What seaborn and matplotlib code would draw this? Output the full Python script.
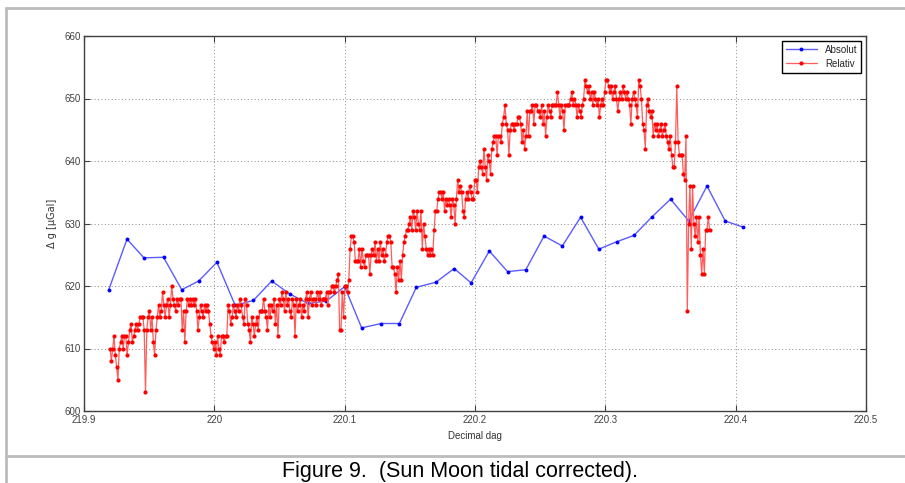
import numpy as np
import matplotlib
matplotlib.use("Agg")
import matplotlib.pyplot as plt
from matplotlib.lines import Line2D
import seaborn as sns

# Absolut: measured points (decimal day, delta g in uGal)
absolut_x = [219.919, 219.933, 219.946, 219.961, 219.975, 219.988, 220.002, 220.016,
             220.030, 220.044, 220.058, 220.072, 220.086, 220.100, 220.113, 220.128,
             220.142, 220.155, 220.170, 220.184, 220.197, 220.211, 220.225, 220.239,
             220.253, 220.267, 220.281, 220.295, 220.309, 220.322, 220.336, 220.350,
             220.364, 220.378, 220.392, 220.406]
absolut_y = [619.4, 627.5, 624.5, 624.6, 619.4, 620.8, 623.8, 616.9,
             617.7, 620.8, 618.7, 617.2, 617.6, 619.9, 613.3, 614.0,
             614.0, 619.8, 620.6, 622.8, 620.5, 625.6, 622.3, 622.6,
             628.0, 626.4, 631.0, 625.9, 627.1, 628.1, 631.1, 633.9,
             630.4, 636.0, 630.4, 629.4]

# Relativ: evenly sampled readings between these two times
relativ_start = 219.920
relativ_end = 220.380
relativ_y = [
    610, 608, 610, 612, 609, 607, 605, 610, 611, 612,
    610, 612, 612, 609, 611, 613, 614, 611, 612, 613,
    614, 613, 614, 615, 615, 615, 613, 603, 613, 615,
    616, 613, 615, 611, 609, 613, 615, 617, 615, 616,
    619, 617, 615, 617, 618, 615, 617, 620, 618, 617,
    616, 618, 617, 618, 618, 613, 616, 611, 616, 618,
    617, 618, 617, 618, 617, 618, 616, 613, 615, 617,
    616, 615, 617, 616, 617, 616, 614, 612, 611, 610,
    611, 609, 612, 610, 609, 612, 612, 611, 612, 612,
    617, 616, 614, 615, 617, 616, 615, 617, 616, 618,
    617, 615, 614, 618, 617, 614, 613, 611, 615, 614,
    612, 614, 615, 613, 616, 616, 616, 618, 616, 615,
    613, 617, 615, 617, 616, 618, 614, 617, 612, 618,
    617, 619, 618, 616, 619, 617, 618, 616, 615, 618,
    617, 612, 618, 616, 617, 618, 615, 617, 616, 618,
    619, 615, 618, 619, 617, 618, 618, 617, 619,
    618, 619, 617, 618, 618, 618, 619, 617, 619, 619,
    620, 620, 619, 620, 621, 622, 613, 613, 619, 615,
    620, 620, 619, 621, 626, 628, 628, 627, 624, 624,
    624, 626, 623, 626, 624, 623, 625, 625, 625, 622,
    625, 626, 625, 627, 624, 626, 624, 627, 625, 626,
    624, 625, 627, 628, 628, 627, 623, 623, 622, 619,
    623, 621, 624, 621, 625, 627, 628, 629, 629, 630,
    631, 629, 632, 631, 629, 632, 630, 629, 632, 626,
    630, 628, 626, 625, 626, 625, 626, 625, 629, 632,
    632, 634, 635, 635, 634, 635, 632, 634, 633, 634,
    633, 631, 634, 633, 630, 634, 637, 635, 636, 635,
    632, 631, 634, 635, 634, 636, 635, 634, 634, 637,
    637, 635, 639, 640, 639, 638, 642, 639, 637, 641,
    640, 638, 642, 643, 644, 644, 641, 644, 644, 643,
    646, 647, 649, 646, 645, 641, 645, 646, 646, 645,
    646, 646, 647, 647, 646, 643, 645, 642, 644, 648,
    644, 648, 648, 649, 646, 649, 649, 648, 648, 647,
    649, 646, 648, 644, 647, 649, 648, 647, 649, 649,
    649, 649, 651, 649, 647, 649, 648, 645, 649, 649,
    649, 649, 650, 651, 649, 650, 649, 647, 649, 648,
    647, 649, 650, 653, 652, 651, 652, 650, 651, 649,
    651, 650, 649, 650, 647, 649, 650, 649, 651, 653,
    653, 652, 651, 652, 650, 651, 652, 650, 648, 650,
    651, 650, 652, 651, 650, 651, 650, 649, 646, 650,
    651, 650, 649, 647, 653, 652, 650, 646, 645, 642,
    649, 650, 648, 647, 648, 644, 646, 645, 646, 644,
    645, 646, 644, 645, 646, 644, 643, 642, 644, 641,
    639, 639, 643, 652, 643, 641, 641,
    641, 638, 637, 644, 616, 630, 636, 626, 636, 630,
    628, 631, 627, 631, 625, 622, 626, 622, 629, 629,
    631, 629,
]
relativ_x = np.linspace(relativ_start, relativ_end, len(relativ_y))

x_ticks = [219.9, 220.0, 220.1, 220.2, 220.3, 220.4, 220.5]
x_tick_labels = ["219.9", "220", "220.1", "220.2", "220.3", "220.4", "220.5"]
y_ticks = [600, 610, 620, 630, 640, 650, 660]

sns.set_style("ticks")
plt.rcParams["font.family"] = ["Liberation Sans Narrow", "Liberation Sans", "DejaVu Sans"]

W, H = 905, 483
fig = plt.figure(figsize=(W / 100, H / 100), dpi=100)
fig.patch.set_facecolor("white")

# plot box in pixel terms of the original MATLAB figure
left, right, top, bottom = 84, 866, 36, 411
ax = fig.add_axes([left / W, 1 - bottom / H, (right - left) / W, (bottom - top) / H])

sns.lineplot(x=absolut_x, y=absolut_y, ax=ax, color="#5c5cff", linewidth=1.0,
             marker="o", markersize=2.8, markerfacecolor="#0000ff",
             markeredgecolor="#0000ff", markeredgewidth=0, label="Absolut",
             estimator=None, sort=False)
sns.lineplot(x=relativ_x, y=relativ_y, ax=ax, color="#ff5c5c", linewidth=0.9,
             marker="o", markersize=3.0, markerfacecolor="#ff0000",
             markeredgecolor="#ff0000", markeredgewidth=0, label="Relativ",
             estimator=None, sort=False)

ax.set_xlim(219.9, 220.5)
ax.set_ylim(600, 660)
ax.set_xticks(x_ticks)
ax.set_xticklabels(x_tick_labels)
ax.set_yticks(y_ticks)
ax.grid(True, linestyle=(0, (1, 2.5)), color="#8a8a8a", linewidth=0.7)
ax.tick_params(direction="in", length=4, width=0.8, colors="#404040",
               labelsize=7, top=True, right=True)
ax.tick_params(axis="x", pad=3)
ax.tick_params(axis="y", pad=2)
for s in ax.spines.values():
    s.set_color("#404040")
    s.set_linewidth(1.0)

ax.set_xlabel("Decimal dag", fontsize=7, color="#333333", labelpad=4)
ax.set_ylabel("\u0394 g [\u00b5Gal]", fontsize=7, color="#333333", labelpad=6,
              family=["DejaVu Sans"])

leg = ax.legend(loc="upper right", fontsize=7, frameon=True, fancybox=False,
                edgecolor="black", framealpha=1, handlelength=3.2,
                borderaxespad=0.5, labelspacing=0.4, borderpad=0.4)
leg.get_frame().set_linewidth(1.0)

# frame around the figure and caption
border = "#bcbcbc"
fig.add_artist(Line2D([6 / W, 1], [1 - 8 / H, 1 - 8 / H], color=border, lw=2))
fig.add_artist(Line2D([6 / W, 6 / W], [0, 1 - 8 / H], color=border, lw=2))
fig.add_artist(Line2D([6 / W, 1], [1 - 456 / H, 1 - 456 / H], color=border, lw=2))

fig.text(460 / W, 1 - 472 / H, "Figure 9.  (Sun Moon tidal corrected).",
         ha="center", va="center", fontsize=15.5, color="black",
         family=["Liberation Sans", "DejaVu Sans"])

fig.savefig("out.png", dpi=100)
